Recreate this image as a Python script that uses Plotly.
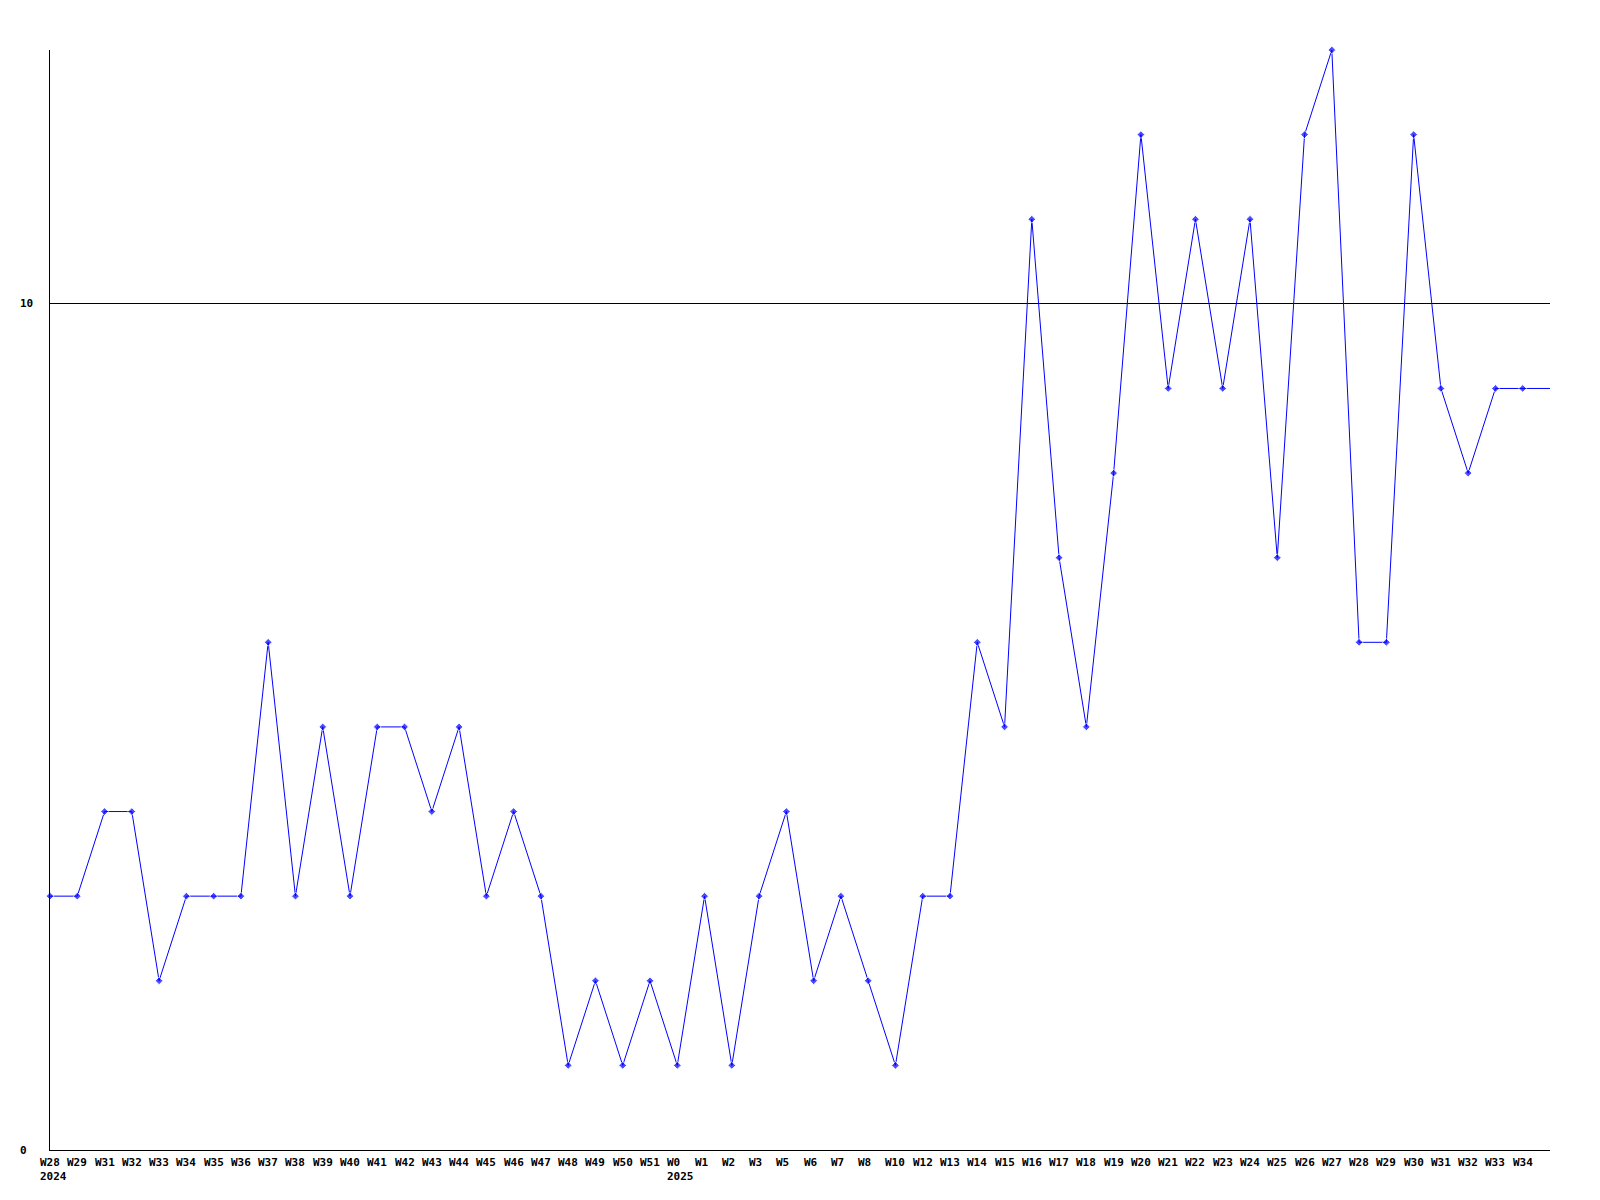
import plotly.graph_objects as go

week_labels = ["W28", "W29", "W31", "W32", "W33", "W34", "W35", "W36", "W37", "W38",
               "W39", "W40", "W41", "W42", "W43", "W44", "W45", "W46", "W47", "W48",
               "W49", "W50", "W51", "W0", "W1", "W2", "W3", "W5", "W6", "W7",
               "W8", "W10", "W12", "W13", "W14", "W15", "W16", "W17", "W18", "W19",
               "W20", "W21", "W22", "W23", "W24", "W25", "W26", "W27", "W28", "W29",
               "W30", "W31", "W32", "W33", "W34", ""]
year_labels = {0: "2024", 23: "2025"}
values = [3, 3, 4, 4, 2, 3, 3, 3, 6, 3,
          5, 3, 5, 5, 4, 5, 3, 4, 3, 1,
          2, 1, 2, 1, 3, 1, 3, 4, 2, 3,
          2, 1, 3, 3, 6, 5, 11, 7, 5, 8,
          12, 9, 11, 9, 11, 7, 12, 13, 6, 6,
          12, 9, 8, 9, 9, 9]
y_ticks = [0, 10]

x = list(range(len(values)))
marker_sizes = [6 if lab else 0 for lab in week_labels]

fig = go.Figure()
fig.add_trace(go.Scatter(
    x=x, y=values, mode="lines+markers",
    line=dict(color="#0000ff", width=1),
    marker=dict(symbol="diamond", size=marker_sizes, color="#0000ff"),
    hoverinfo="skip", showlegend=False, cliponaxis=False,
))

font = dict(family="DejaVu Sans Mono", size=11, color="#000000")
annotations = []
for i, lab in enumerate(week_labels):
    if not lab:
        continue
    txt = "<b>" + lab + "</b>"
    if i in year_labels:
        txt += "<br><b>" + year_labels[i] + "</b>"
    annotations.append(dict(
        x=i, xref="x", y=0, yref="paper", text=txt, showarrow=False,
        xanchor="left", yanchor="top", align="left", xshift=-11, yshift=-5,
        font=font, borderpad=0,
    ))
for v in y_ticks:
    annotations.append(dict(
        x=0, xref="paper", y=v, yref="y", text="<b>" + str(v) + "</b>",
        showarrow=False, xanchor="left", yanchor="middle", xshift=-31,
        font=font, borderpad=0,
    ))

fig.update_layout(
    width=1584, height=1184,
    margin=dict(l=42, r=42, t=42, b=42),
    paper_bgcolor="white", plot_bgcolor="white",
    xaxis=dict(range=[0, len(values) - 1], showgrid=False, zeroline=False,
               showline=True, linecolor="black", linewidth=1,
               showticklabels=False, ticks=""),
    yaxis=dict(range=[0, 13], tickvals=y_ticks, showgrid=True, gridcolor="black",
               gridwidth=1, zeroline=False, showline=True, linecolor="black",
               linewidth=1, showticklabels=False, ticks=""),
    annotations=annotations,
)
fig.write_html("out.html")
